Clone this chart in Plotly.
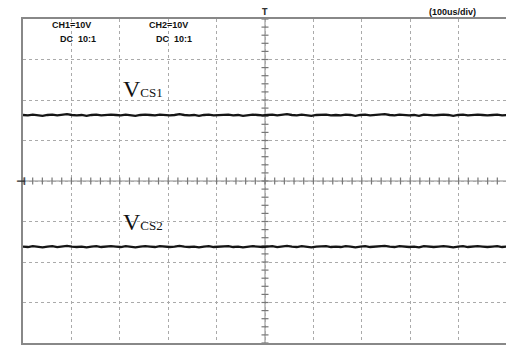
import numpy as np
import plotly.graph_objects as go

# time axis: 10 divisions x 100 us ; volts: 8 divisions x 10 V
time_range_us = [0, 1000]
volt_range = [-40, 40]

vcs1 = [16.3, 16.2, 16.4, 16.3, 16.1, 16.3, 16.4, 16.2, 16.3, 16.5, 16.3, 16.2, 16.3, 16.1, 16.3,
        16.4, 16.2, 16.3, 16.4, 16.3, 16.2, 16.4, 16.3, 16.1, 16.3, 16.4, 16.3, 16.2, 16.4, 16.3,
        16.2, 16.3, 16.5, 16.3, 16.2, 16.3, 16.1, 16.3, 16.4, 16.2, 16.3, 16.3, 16.4, 16.2, 16.3,
        16.1, 16.3, 16.4, 16.3, 16.2, 16.3, 16.4, 16.2, 16.3, 16.5, 16.3, 16.2, 16.4, 16.3, 16.1,
        16.3, 16.3, 16.4, 16.2, 16.3, 16.2, 16.4, 16.3, 16.1, 16.3, 16.4, 16.2, 16.3, 16.3, 16.5,
        16.3, 16.2, 16.4, 16.3, 16.2, 16.3, 16.1, 16.4, 16.3, 16.2, 16.3, 16.4, 16.3, 16.1, 16.3,
        16.4, 16.2, 16.3, 16.4, 16.3, 16.2, 16.3, 16.4, 16.2, 16.3]
vcs2 = [-16.2, -16.3, -16.1, -16.2, -16.4, -16.2, -16.1, -16.3, -16.2, -16.0, -16.2, -16.3, -16.2, -16.4, -16.2,
        -16.1, -16.3, -16.2, -16.1, -16.2, -16.3, -16.1, -16.2, -16.4, -16.2, -16.1, -16.2, -16.3, -16.1, -16.2,
        -16.3, -16.2, -16.0, -16.2, -16.3, -16.2, -16.4, -16.2, -16.1, -16.3, -16.2, -16.2, -16.1, -16.3, -16.2,
        -16.4, -16.2, -16.1, -16.2, -16.3, -16.2, -16.1, -16.3, -16.2, -16.0, -16.2, -16.3, -16.1, -16.2, -16.4,
        -16.2, -16.2, -16.1, -16.3, -16.2, -16.3, -16.1, -16.2, -16.4, -16.2, -16.1, -16.3, -16.2, -16.2, -16.0,
        -16.2, -16.3, -16.1, -16.2, -16.3, -16.2, -16.4, -16.1, -16.2, -16.3, -16.2, -16.1, -16.2, -16.4, -16.2,
        -16.1, -16.3, -16.2, -16.1, -16.2, -16.3, -16.2, -16.1, -16.3, -16.2]
labels = ["V<span style='font-size:13px'>CS1</span>", "V<span style='font-size:13px'>CS2</span>"]
label_pos = [(203, 22.8), (203, -10.2)]
header = ["CH1=10V", "DC  10:1", "CH2=10V", "DC  10:1"]
header_pos = [(101, 38.4), (113, 35.0), (300, 38.4), (313, 35.0)]
timebase = "(100us/div)"

t1 = np.linspace(time_range_us[0], time_range_us[1], len(vcs1))
t2 = np.linspace(time_range_us[0], time_range_us[1], len(vcs2))

fig = go.Figure()

# center axes
fig.add_shape(type="line", x0=0, x1=1000, y0=0, y1=0, line=dict(color="#888", width=1), layer="below")
fig.add_shape(type="line", x0=500, x1=500, y0=-40, y1=40, line=dict(color="#888", width=1), layer="below")

# center crosshair minor ticks
xt = np.arange(0, 1001, 20)
yt = np.arange(-40, 41, 2)
fig.add_trace(go.Scatter(x=xt, y=np.zeros_like(xt), mode="markers",
                         marker=dict(symbol="line-ns", size=5, line=dict(color="#777", width=1.2)),
                         hoverinfo="skip", showlegend=False))
fig.add_trace(go.Scatter(x=np.full_like(yt, 500), y=yt, mode="markers",
                         marker=dict(symbol="line-ew", size=5, line=dict(color="#777", width=1.2)),
                         hoverinfo="skip", showlegend=False))

fig.add_trace(go.Scatter(x=t1, y=vcs1, mode="lines", line=dict(color="#151515", width=2.3),
                         showlegend=False))
fig.add_trace(go.Scatter(x=t2, y=vcs2, mode="lines", line=dict(color="#151515", width=2.3),
                         showlegend=False))

for txt, (x, y) in zip(labels, label_pos):
    fig.add_annotation(x=x, y=y, text=txt, showarrow=False, xanchor="left", yanchor="middle",
                       font=dict(family="Liberation Serif", size=24, color="#111"))

hfont = dict(family="Liberation Sans", size=9, color="#111")
for txt, (x, y) in zip(header, header_pos):
    fig.add_annotation(x=x, y=y, text="<b>" + txt + "</b>", showarrow=False, xanchor="center", font=hfont)

fig.add_annotation(x=0.94, y=1.0, xref="paper", yref="paper", yanchor="bottom",
                   text="<b>" + timebase + "</b>", showarrow=False,
                   font=dict(family="Liberation Sans", size=9, color="#111"))
# trigger marker
fig.add_annotation(x=500, y=1.0, yref="paper", yanchor="bottom", text="<b>T</b>", showarrow=False,
                   font=dict(family="DejaVu Sans", size=8, color="#333"))
# ground marker
fig.add_annotation(x=-0.019, y=0, xref="paper", text="<b>⊣</b>", showarrow=False,
                   font=dict(family="DejaVu Sans", size=11, color="#333"))

grid = dict(showgrid=True, gridcolor="#aaa", gridwidth=1, griddash="dot", zeroline=False,
            showticklabels=False, showline=True, linecolor="#888", linewidth=2, mirror=True)
fig.update_xaxes(range=time_range_us, dtick=100, tick0=0, ticks="", **grid)
fig.update_yaxes(range=volt_range, dtick=10, tick0=0, ticks="", **grid)

# page body has an 8px margin; size/margins compensate so the plot area sits at x 23-509, y 19-343
fig.update_layout(width=506, height=342, margin=dict(l=15, r=5, t=11, b=7),
                  plot_bgcolor="white", paper_bgcolor="white")
fig.write_html("out.html")
